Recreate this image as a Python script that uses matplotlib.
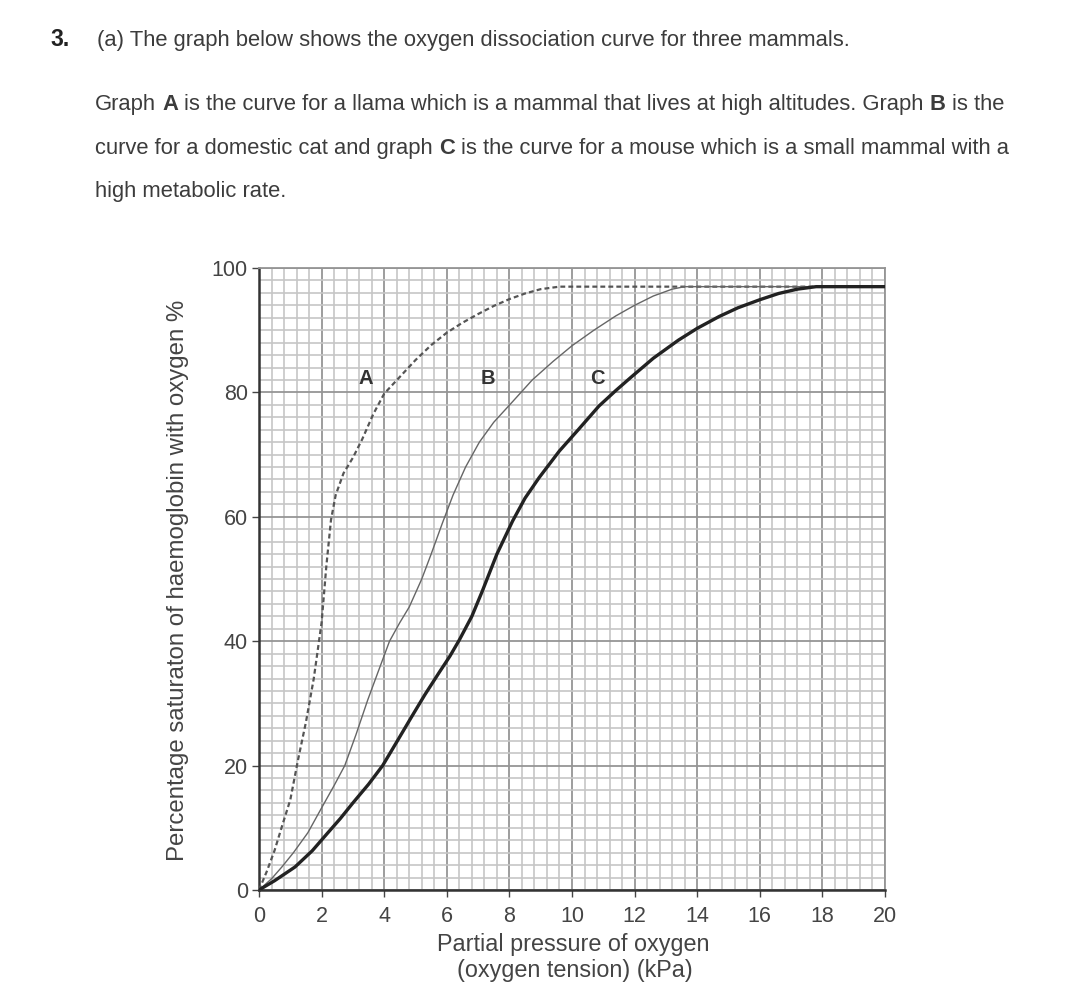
import matplotlib
matplotlib.use("Agg")
import matplotlib.pyplot as plt
from matplotlib.ticker import MultipleLocator

plt.rcParams['font.family'] = ['Liberation Sans', 'DejaVu Sans']

# ---------------- data ----------------
a_x = [0, 0.25, 0.5, 0.75, 1.0, 1.25, 1.5, 1.75, 2.0, 2.15, 2.3, 2.45, 2.7, 3.0, 3.3, 3.65, 4.0,
       4.5, 5.0, 5.5, 6.0, 6.5, 7.0, 7.5, 8.0, 8.5, 9.0, 9.6, 20]
a_y = [0, 3, 6.4, 10.5, 14.5, 21, 27, 34, 43, 52, 59.5, 63.5, 67, 69.5, 72.5, 76.5, 79.8,
       82.5, 85.2, 87.6, 89.6, 91.2, 92.6, 93.9, 95.0, 95.9, 96.6, 97, 97]

b_x = [0, 0.4, 0.73, 1.1, 1.56, 2.0, 2.4, 2.74, 3.1, 3.47, 3.8, 4.17, 4.5, 4.8, 5.2, 5.5, 5.86,
       6.2, 6.6, 7.04, 7.5, 8.1, 8.73, 9.4, 10.0, 10.7, 11.4, 12.0, 12.6, 13.2, 13.6, 20]
b_y = [0, 1.8, 3.7, 6.0, 9.2, 13.2, 16.8, 20, 25, 30.5, 35, 40, 43, 45.5, 50, 54, 59,
       63.5, 68, 72, 75.2, 78.5, 82, 85, 87.5, 90, 92.3, 94, 95.5, 96.6, 97, 97]

c_x = [0, 0.5, 1.15, 1.7, 2.2, 2.6, 3.0, 3.5, 3.95, 4.4, 4.87, 5.3, 5.76, 6.1, 6.4, 6.8, 7.13,
       7.6, 8.1, 8.5, 8.95, 9.6, 10.2, 10.86, 11.4, 11.9, 12.6, 13.4, 14.0, 14.7, 15.3, 16.0,
       16.6, 17.2, 17.8, 20]
c_y = [0, 1.5, 3.7, 6.3, 9.2, 11.5, 14, 17, 20, 23.8, 27.8, 31.4, 35, 37.6, 40.2, 44, 48,
       54, 59.3, 63, 66.3, 70.6, 74, 77.8, 80.3, 82.5, 85.5, 88.4, 90.3, 92.2, 93.6, 94.9,
       95.9, 96.6, 97, 97]

curve_labels = ['A', 'B', 'C']
label_x = [3.4, 7.3, 10.8]
label_y = [82.3, 82.3, 82.3]

x_ticks = [0, 2, 4, 6, 8, 10, 12, 14, 16, 18, 20]
y_ticks = [0, 20, 40, 60, 80, 100]

x_label_lines = ["Partial pressure of oxygen", "(oxygen tension) (kPa)"]
y_label = "Percentage saturaton of haemoglobin with oxygen %"

title_num = "3."
title_line = "(a) The graph below shows the oxygen dissociation curve for three mammals."
para_lines = [
    [("Graph", False), ("A", True), ("is the curve for a llama which is a mammal that lives at high altitudes. Graph", False), ("B", True), ("is the", False)],
    [("curve for a domestic cat and graph", False), ("C", True), ("is the curve for a mouse which is a small mammal with a", False)],
    [("high metabolic rate.", False)],
]

# ---------------- figure ----------------
W, H = 1080, 1006
fig = plt.figure(figsize=(W / 100, H / 100), dpi=100)
fig.patch.set_facecolor('white')
renderer = fig.canvas.get_renderer()

TXT = '#3c3c3c'

def px(x, y):
    return x / W, 1 - y / H

def text_width(s, **kw):
    t = fig.text(0, 0, s, **kw)
    w = t.get_window_extent(renderer).width
    t.remove()
    return w

def draw_runs(x0, y0, runs, size, color=TXT):
    space = text_width("a a", fontsize=size) - text_width("aa", fontsize=size)
    x = x0
    for s, bold in runs:
        kw = dict(fontsize=size, fontweight='bold' if bold else 'normal')
        fig.text(*px(x, y0), s, color=color, va='baseline', ha='left', **kw)
        x += text_width(s, **kw) + space

# fit paragraph font to reference width (line 1 spans ~908 px)
ref = "Graph A is the curve for a llama which is a mammal that lives at high altitudes. Graph B is the"
psize = 10 * 908 / text_width(ref, fontsize=10)

fig.text(*px(50, 46), title_num, fontsize=psize * 1.05, fontweight='bold', color='#222222', va='baseline')
draw_runs(97, 46, [(title_line, False)], psize)
draw_runs(95, 110, para_lines[0], psize)
draw_runs(95, 154, para_lines[1], psize)
draw_runs(95, 197, para_lines[2], psize)

# ---------------- axes ----------------
left, right, top, bottom = 259, 885, 268, 890
ax = fig.add_axes([left / W, 1 - bottom / H, (right - left) / W, (bottom - top) / H])
ax.set_xlim(0, 20)
ax.set_ylim(0, 100)

ax.xaxis.set_minor_locator(MultipleLocator(0.4))
ax.yaxis.set_minor_locator(MultipleLocator(2))
ax.set_xticks(x_ticks)
ax.set_yticks(y_ticks)

ax.grid(which='minor', color='#c6c6c6', linewidth=1.2)
ax.grid(which='major', color='#959595', linewidth=1.3)
ax.set_axisbelow(True)

ax.tick_params(which='minor', length=0)
ax.tick_params(which='major', direction='out', length=5, width=1.0, color='#444444',
               labelsize=15.5, labelcolor='#444444')
ax.tick_params(axis='x', pad=6.5)
ax.tick_params(axis='y', pad=3)

for side in ['left', 'bottom']:
    ax.spines[side].set_color('#333333')
    ax.spines[side].set_linewidth(1.8)
for side in ['top', 'right']:
    ax.spines[side].set_color('#959595')
    ax.spines[side].set_linewidth(1.3)

# curves
ax.plot(a_x, a_y, color='#555555', linewidth=1.6, linestyle=(0, (2.2, 1.4)), zorder=5)
ax.plot(b_x, b_y, color='#666666', linewidth=1.0, zorder=5)
ax.plot(c_x, c_y, color='#222222', linewidth=2.4, zorder=6, solid_joinstyle='round')

for lab, lx, ly in zip(curve_labels, label_x, label_y):
    ax.text(lx, ly, lab, fontsize=14.5, fontweight='bold', color='#333333',
            ha='center', va='center', zorder=7)

# axis labels
xl_size = 0.97 * 10 * 282 / text_width(x_label_lines[0], fontsize=10)
fig.text(*px(573, 945), x_label_lines[0], fontsize=xl_size, color='#444444', ha='center', va='center')
fig.text(*px(575, 970), x_label_lines[1], fontsize=xl_size, color='#444444', ha='center', va='center')
yl_size = 10 * 565 / text_width(y_label, fontsize=10)
fig.text(*px(178, 580), y_label, fontsize=yl_size, color='#444444', ha='center', va='center',
         rotation=90)

fig.savefig("out.png", dpi=100, facecolor='white')
